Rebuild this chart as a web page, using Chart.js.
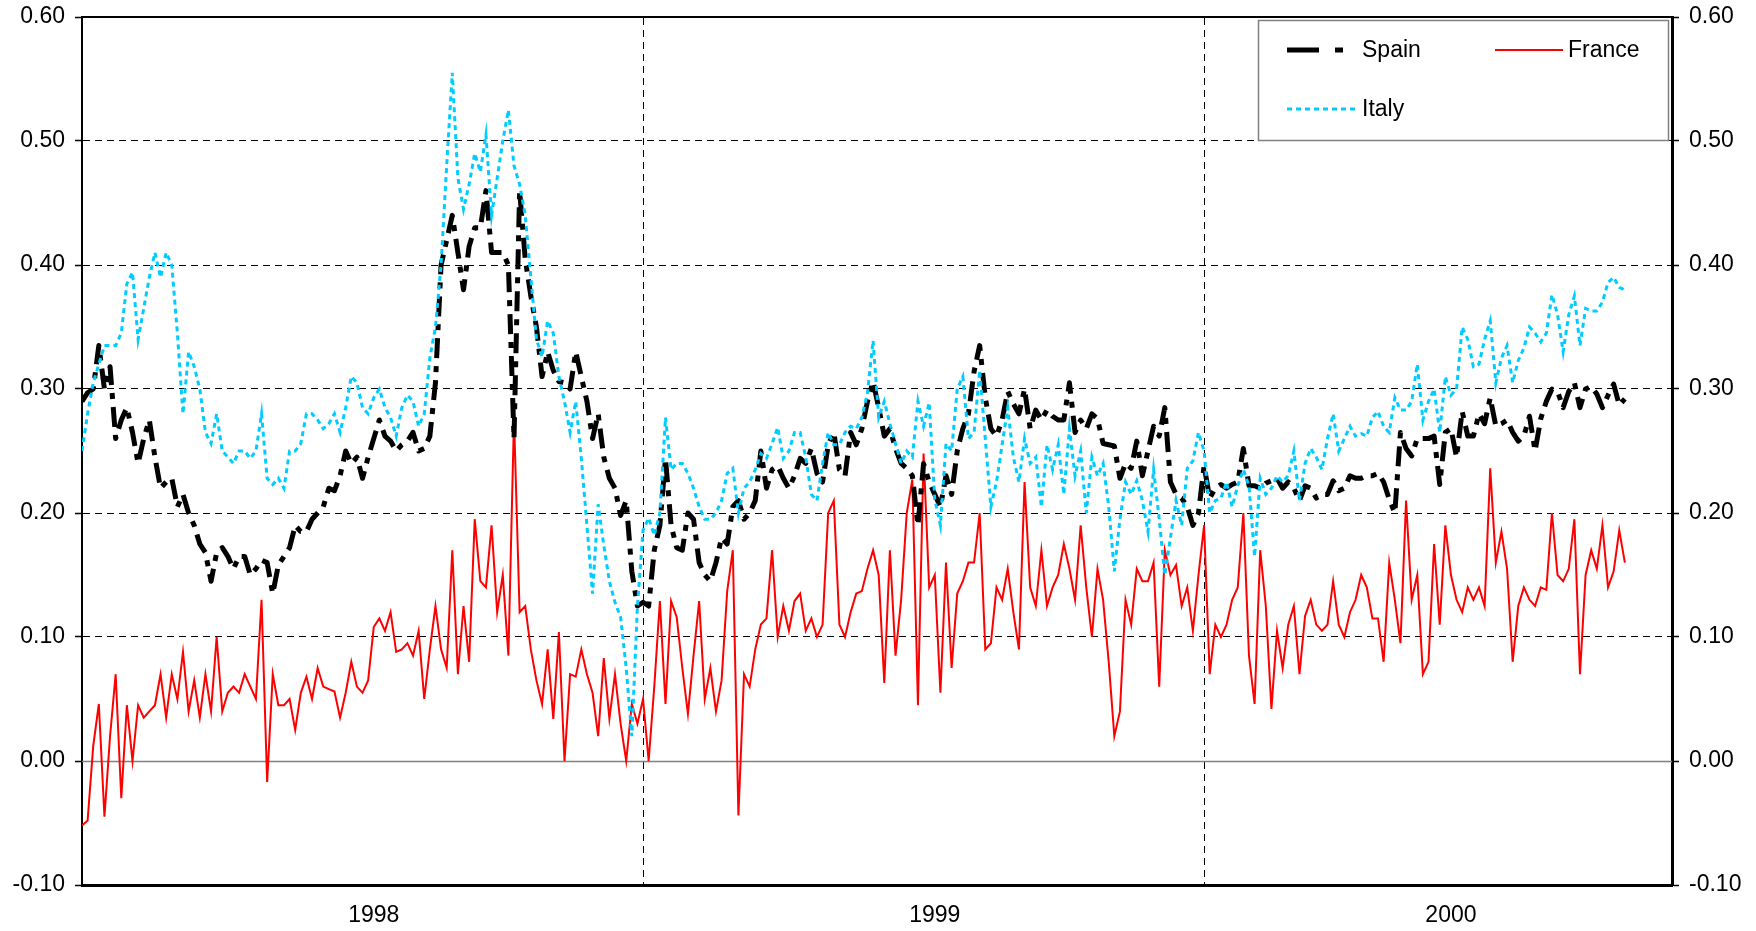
<!DOCTYPE html>
<html>
<head>
<meta charset="utf-8">
<script src="https://cdn.jsdelivr.net/npm/chart.js@4.4.1/dist/chart.umd.min.js"></script>
<style>
html,body{margin:0;padding:0;background:#fff}
#wrap{width:1756px;height:931px}
</style>
</head>
<body>
<div id="wrap"><canvas id="c" width="1756" height="931"></canvas></div>
<script>
// values, one point every ~2.5 business days, jan 1998 -> oct 2000

const spain = [
0.29,0.297,0.30,0.335,0.30,0.318,0.26,0.275,0.285,0.265,
0.24,0.26,0.275,0.245,0.22,0.225,0.228,0.205,0.215,0.20,
0.19,0.175,0.168,0.145,0.168,0.172,0.165,0.155,0.165,0.165,
0.15,0.155,0.162,0.16,0.135,0.158,0.165,0.172,0.19,0.185,
0.185,0.195,0.2,0.205,0.22,0.218,0.23,0.25,0.24,0.245,
0.228,0.245,0.26,0.275,0.262,0.258,0.25,0.255,0.258,0.265,
0.25,0.252,0.262,0.305,0.40,0.42,0.44,0.41,0.38,0.415,
0.43,0.43,0.46,0.41,0.41,0.41,0.40,0.26,0.46,0.405,
0.375,0.35,0.31,0.33,0.315,0.306,0.305,0.30,0.33,0.31,
0.29,0.26,0.28,0.245,0.228,0.22,0.198,0.21,0.153,0.125,
0.128,0.125,0.17,0.19,0.244,0.19,0.172,0.17,0.2,0.195,
0.16,0.15,0.145,0.16,0.18,0.175,0.205,0.21,0.195,0.2,
0.21,0.25,0.22,0.235,0.238,0.228,0.22,0.23,0.244,0.24,
0.252,0.232,0.225,0.255,0.265,0.235,0.23,0.265,0.255,0.268,
0.29,0.306,0.285,0.262,0.268,0.252,0.24,0.236,0.23,0.19,
0.24,0.225,0.215,0.205,0.23,0.215,0.25,0.268,0.28,0.314,
0.335,0.293,0.268,0.262,0.275,0.298,0.288,0.28,0.30,0.268,
0.283,0.275,0.283,0.278,0.275,0.275,0.305,0.265,0.275,0.268,
0.28,0.276,0.256,0.255,0.254,0.228,0.24,0.236,0.258,0.23,
0.25,0.27,0.262,0.285,0.225,0.215,0.212,0.205,0.19,0.2,
0.238,0.212,0.22,0.223,0.22,0.223,0.225,0.252,0.222,0.222,
0.22,0.224,0.226,0.228,0.22,0.225,0.22,0.21,0.222,0.22,
0.212,0.215,0.215,0.226,0.218,0.22,0.23,0.228,0.228,0.23,
0.23,0.232,0.225,0.211,0.2,0.265,0.252,0.246,0.26,0.26,
0.26,0.262,0.223,0.265,0.268,0.245,0.282,0.262,0.262,0.28,
0.272,0.293,0.27,0.272,0.275,0.265,0.258,0.262,0.278,0.25,
0.276,0.29,0.30,0.298,0.285,0.298,0.305,0.285,0.30,0.302,
0.296,0.285,0.295,0.304,0.287,0.292
]

const france = [
-0.052,-0.048,0.012,0.046,-0.045,0.02,0.07,-0.03,0.045,0.0,
0.045,0.035,0.04,0.045,0.07,0.035,0.07,0.05,0.088,0.04,
0.065,0.035,0.07,0.04,0.10,0.04,0.055,0.06,0.055,0.07,
0.06,0.05,0.13,-0.017,0.07,0.045,0.045,0.05,0.025,0.055,
0.068,0.05,0.075,0.06,0.058,0.056,0.035,0.055,0.08,0.06,
0.055,0.065,0.108,0.115,0.105,0.12,0.088,0.09,0.095,0.085,
0.105,0.05,0.09,0.125,0.09,0.075,0.17,0.07,0.125,0.08,
0.195,0.145,0.14,0.19,0.12,0.15,0.085,0.277,0.12,0.125,
0.09,0.065,0.046,0.09,0.034,0.104,0.0,0.07,0.068,0.09,
0.07,0.055,0.02,0.083,0.034,0.07,0.03,0.0,0.046,0.03,
0.05,0.0,0.06,0.129,0.046,0.129,0.116,0.075,0.038,0.085,
0.129,0.05,0.075,0.04,0.065,0.137,0.17,-0.044,0.07,0.06,
0.09,0.11,0.115,0.17,0.1,0.125,0.105,0.129,0.135,0.105,
0.115,0.1,0.11,0.2,0.21,0.11,0.10,0.12,0.135,0.137,
0.155,0.17,0.15,0.063,0.17,0.085,0.13,0.2,0.227,0.045,
0.248,0.14,0.15,0.055,0.16,0.075,0.135,0.145,0.16,0.16,
0.2,0.09,0.095,0.14,0.13,0.155,0.12,0.09,0.225,0.14,
0.125,0.17,0.125,0.14,0.15,0.175,0.155,0.13,0.19,0.14,
0.1,0.155,0.13,0.08,0.02,0.04,0.13,0.11,0.155,0.145,
0.145,0.16,0.06,0.17,0.15,0.158,0.125,0.14,0.105,0.15,
0.19,0.07,0.11,0.1,0.11,0.13,0.14,0.2,0.085,0.046,
0.17,0.125,0.042,0.105,0.075,0.11,0.125,0.07,0.117,0.13,
0.11,0.105,0.11,0.145,0.11,0.1,0.12,0.13,0.15,0.14,
0.115,0.115,0.08,0.16,0.13,0.095,0.21,0.13,0.15,0.07,
0.08,0.175,0.11,0.19,0.15,0.13,0.12,0.14,0.13,0.14,
0.125,0.236,0.16,0.185,0.155,0.08,0.125,0.14,0.13,0.125,
0.14,0.138,0.2,0.15,0.145,0.155,0.195,0.07,0.15,0.17,
0.155,0.19,0.14,0.153,0.186,0.16
]

const italy = [
0.25,0.28,0.305,0.32,0.335,0.335,0.335,0.345,0.385,0.394,
0.34,0.365,0.39,0.41,0.39,0.41,0.40,0.345,0.28,0.33,
0.318,0.30,0.265,0.256,0.28,0.25,0.245,0.24,0.25,0.25,
0.244,0.25,0.28,0.228,0.223,0.228,0.22,0.25,0.25,0.256,
0.28,0.28,0.275,0.268,0.272,0.28,0.265,0.285,0.31,0.305,
0.285,0.28,0.293,0.30,0.285,0.277,0.262,0.285,0.295,0.29,
0.27,0.28,0.325,0.35,0.40,0.48,0.555,0.47,0.445,0.465,
0.49,0.475,0.505,0.44,0.47,0.50,0.525,0.48,0.465,0.44,
0.39,0.34,0.326,0.355,0.345,0.31,0.29,0.265,0.29,0.244,
0.19,0.135,0.207,0.174,0.145,0.128,0.116,0.075,0.02,0.125,
0.186,0.196,0.182,0.20,0.277,0.235,0.24,0.24,0.232,0.22,
0.205,0.195,0.195,0.2,0.21,0.232,0.236,0.2,0.22,0.225,
0.235,0.248,0.244,0.256,0.269,0.244,0.25,0.265,0.265,0.245,
0.215,0.21,0.24,0.265,0.255,0.255,0.265,0.27,0.268,0.277,
0.297,0.339,0.277,0.29,0.272,0.256,0.24,0.25,0.245,0.29,
0.27,0.289,0.211,0.19,0.256,0.25,0.30,0.31,0.26,0.265,
0.315,0.26,0.205,0.225,0.255,0.285,0.245,0.225,0.26,0.24,
0.245,0.205,0.255,0.235,0.255,0.215,0.268,0.23,0.25,0.2,
0.245,0.23,0.24,0.205,0.153,0.195,0.225,0.215,0.226,0.21,
0.185,0.235,0.195,0.15,0.18,0.21,0.19,0.236,0.242,0.265,
0.25,0.2,0.21,0.212,0.225,0.205,0.222,0.235,0.222,0.165,
0.228,0.215,0.22,0.23,0.225,0.23,0.25,0.21,0.24,0.252,
0.245,0.235,0.26,0.28,0.25,0.26,0.27,0.262,0.264,0.262,
0.277,0.282,0.27,0.265,0.293,0.283,0.283,0.29,0.32,0.275,
0.29,0.3,0.265,0.31,0.295,0.3,0.35,0.34,0.318,0.32,
0.34,0.355,0.305,0.325,0.335,0.305,0.323,0.333,0.35,0.345,
0.338,0.345,0.376,0.36,0.33,0.36,0.375,0.335,0.365,0.363,
0.363,0.37,0.386,0.39,0.382,0.38
]

const yearLabels = ['1998', '1999', '2000']
const yTicks = [-0.1, 0, 0.1, 0.2, 0.3, 0.4, 0.5, 0.6]

const FONT = '"Liberation Sans", Arial, Helvetica, sans-serif'
Chart.defaults.font.family = FONT
Chart.defaults.font.size = 23
Chart.defaults.color = '#000'

// x runs in data steps: 100 steps per year, plot ends a bit after the last point
const xMax = 283.4
const yMin = yTicks[0], yMax = yTicks[yTicks.length - 1]

const setYTicks = s => { s.ticks = yTicks.map(v => ({value: v})) }
const gridColor = c => {
  const v = c.tick ? c.tick.value : null
  if (v === null || Math.abs(v) < 1e-9 || v <= yMin + 1e-9 || v >= yMax - 1e-9) return 'rgba(0,0,0,0)'
  return '#000'
}
// fixed axis sizes so the plot box sits where the original one does
const fixW = w => s => { s.width = w; s.paddingTop = 0; s.paddingBottom = 0 }
const fixH = h => s => { s.height = h; s.paddingLeft = 0; s.paddingRight = 0 }

// solid grey line at 0
const zeroLine = {
  id: 'zeroLine',
  beforeDatasetsDraw(chart){
    const a = chart.chartArea, ctx = chart.ctx
    const y = Math.round(chart.scales.y.getPixelForValue(0)) + 0.5
    ctx.save()
    ctx.strokeStyle = '#808080'
    ctx.lineWidth = 1.5
    ctx.beginPath()
    ctx.moveTo(a.left, y)
    ctx.lineTo(a.right, y)
    ctx.stroke()
    ctx.restore()
  }
}

// boxed legend in the top right corner, like the excel one
const legendBox = {
  id: 'legendBox',
  afterDraw(chart){
    const ctx = chart.ctx, a = chart.chartArea
    const x0 = a.right - 414, y0 = a.top + 3, w = 410, h = 120
    ctx.save()
    ctx.fillStyle = '#fff'
    ctx.fillRect(x0, y0, w, h)
    ctx.strokeStyle = '#808080'
    ctx.lineWidth = 1.5
    ctx.strokeRect(x0 + 0.5, y0 + 0.5, w, h)

    const items = [
      {name: 'Spain', x: x0 + 29, y: y0 + 30, len: 60, tx: x0 + 104},
      {name: 'France', x: x0 + 237, y: y0 + 30, len: 68, tx: x0 + 310},
      {name: 'Italy', x: x0 + 29, y: y0 + 89, len: 71, tx: x0 + 104}
    ]
    items.forEach(it => {
      const ds = chart.data.datasets.find(d => d.label === it.name)
      ctx.strokeStyle = ds.borderColor
      ctx.lineWidth = ds.borderWidth
      ctx.lineCap = 'butt'
      ctx.setLineDash(ds.legendDash || ds.borderDash || [])
      ctx.beginPath()
      ctx.moveTo(it.x, it.y)
      ctx.lineTo(it.x + it.len, it.y)
      ctx.stroke()
      ctx.setLineDash([])
      ctx.fillStyle = '#000'
      ctx.font = '23px ' + FONT
      ctx.textBaseline = 'middle'
      ctx.textAlign = 'left'
      ctx.fillText(it.name, it.tx, it.y + 1)
    })
    ctx.restore()
  }
}

new Chart(document.getElementById('c'), {
  type: 'line',
  data: {
    labels: spain.map((_, i) => i),
    datasets: [
      {
        label: 'Italy', data: italy,
        borderColor: '#00CCFF', borderWidth: 3, borderDash: [5, 4],
        pointRadius: 0, tension: 0, xAxisID: 'x', yAxisID: 'y'
      },
      {
        label: 'Spain', data: spain,
        borderColor: '#000', borderWidth: 5, borderDash: [20, 8, 6, 8],
        legendDash: [32, 16, 8, 16],
        borderJoinStyle: 'round',
        pointRadius: 0, tension: 0, xAxisID: 'x', yAxisID: 'y'
      },
      {
        label: 'France', data: france,
        borderColor: '#FF0000', borderWidth: 2,
        pointRadius: 0, tension: 0, xAxisID: 'x', yAxisID: 'y'
      }
    ]
  },
  options: {
    responsive: false,
    devicePixelRatio: 1,
    animation: false,
    layout: {padding: 0},
    plugins: {legend: {display: false}, tooltip: {enabled: false}},
    scales: {
      x: {
        type: 'linear', position: 'bottom', min: 0, max: xMax,
        afterBuildTicks: s => { s.ticks = [52, 152, 244].map(v => ({value: v})) },
        afterFit: fixH(46),
        ticks: {
          autoSkip: false, maxRotation: 0, padding: 17,
          callback: (v, i) => yearLabels[i]
        },
        grid: {display: false, drawTicks: false},
        border: {display: true, color: '#000', width: 3}
      },
      xg: {
        // year separators
        type: 'linear', position: 'top', min: 0, max: xMax,
        afterBuildTicks: s => { s.ticks = [100, 200].map(v => ({value: v})) },
        afterFit: fixH(17),
        ticks: {display: false},
        grid: {color: '#000', lineWidth: 1, drawTicks: false},
        border: {display: true, color: '#000', width: 2, dash: [7, 5]}
      },
      y: {
        type: 'linear', position: 'left', min: yMin, max: yMax,
        afterBuildTicks: setYTicks,
        afterFit: fixW(82),
        ticks: {padding: 10, callback: v => v.toFixed(2)},
        grid: {color: gridColor, lineWidth: 1, tickColor: '#000', tickLength: 7, tickWidth: 1.5},
        border: {display: true, color: '#000', width: 2, dash: [7, 5]}
      },
      y2: {
        type: 'linear', position: 'right', min: yMin, max: yMax,
        afterBuildTicks: setYTicks,
        afterFit: fixW(84),
        ticks: {padding: 10, callback: v => v.toFixed(2)},
        grid: {drawOnChartArea: false, tickColor: '#000', tickLength: 7, tickWidth: 1.5},
        border: {display: true, color: '#000', width: 3}
      }
    }
  },
  plugins: [zeroLine, legendBox]
})
</script>
</body>
</html>
